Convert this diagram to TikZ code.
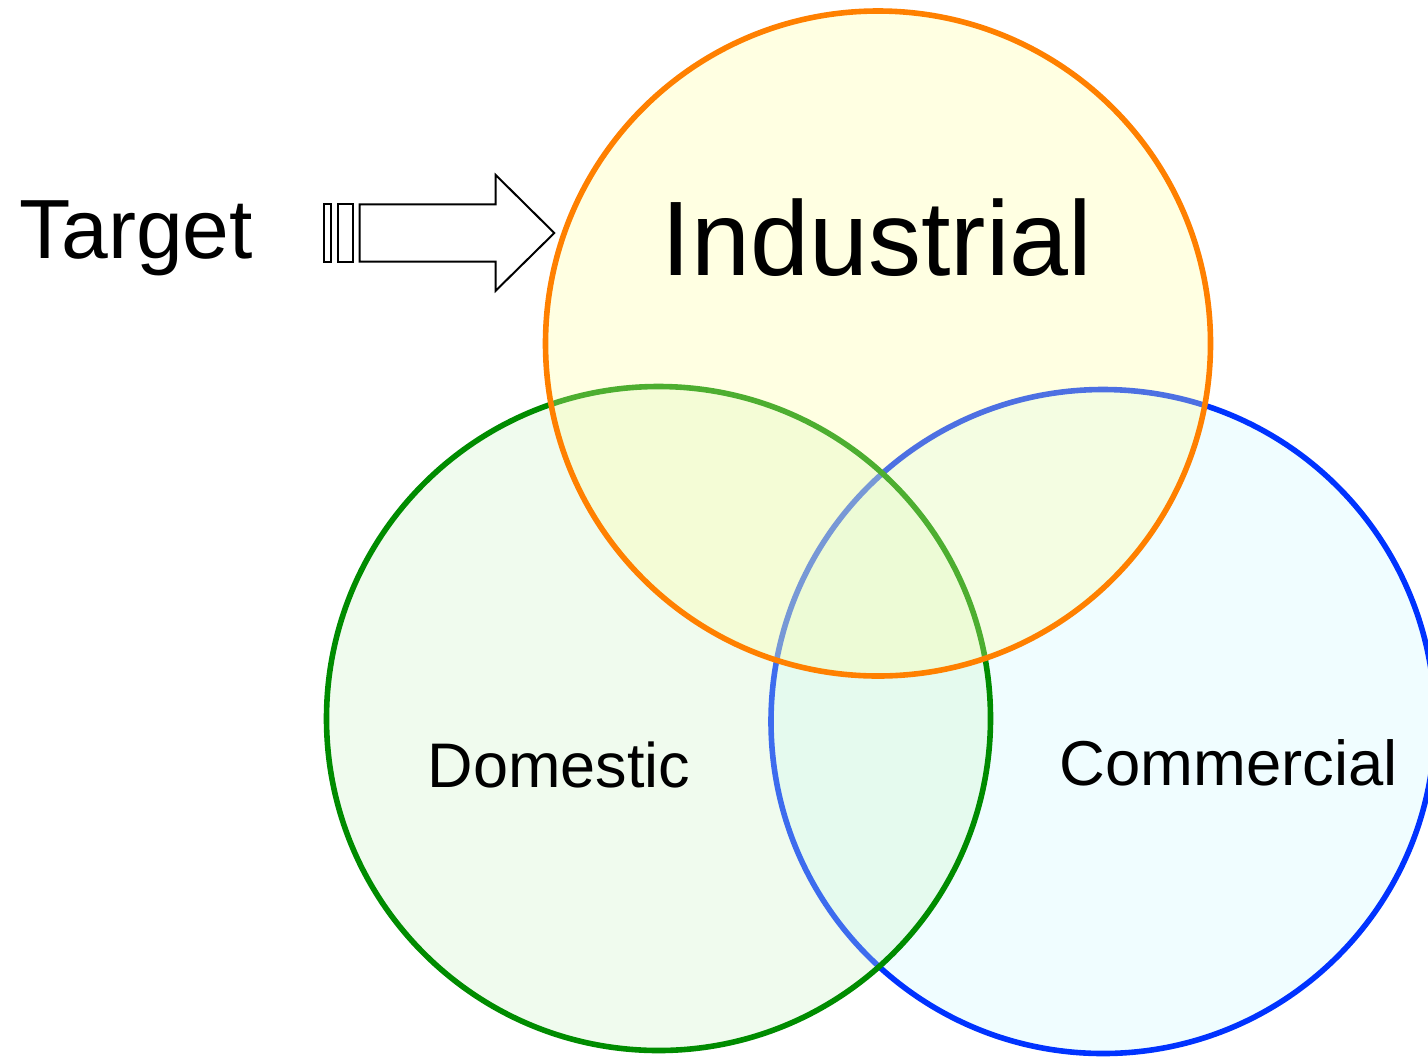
\documentclass[tikz,border=0pt]{standalone}
\usepackage{fontspec}
\setmainfont{Liberation Sans}
\begin{document}
\begin{tikzpicture}[x=0.5pt,y=-0.5pt,
  ring/.style={line width=2.8pt, fill opacity=0.3},
  label/.style={anchor=base, inner sep=0pt, text=black},
  outline/.style={draw=black, line width=1pt, fill=white, line join=miter}]
\useasboundingbox (0,0) rectangle (1428,1056);

% the three overlapping sets, back to front
\draw[ring, draw={rgb,255:red,0;green,51;blue,255}, fill={rgb,255:red,205;green,250;blue,255}]
  (1103,721.5) circle[radius=332];
\draw[ring, draw={rgb,255:red,0;green,140;blue,0}, fill={rgb,255:red,205;green,242;blue,200}]
  (658.5,718.5) circle[radius=332];
\draw[ring, draw={rgb,255:red,255;green,128;blue,0}, fill={rgb,255:red,255;green,255;blue,160}]
  (878,343.5) circle[radius=332.5];

% labels
\node[label, font=\fontsize{53}{60}\selectfont] (ind) at (877,275) {Industrial};
\node[label, font=\fontsize{31.5}{38}\selectfont] (dom) at (559,787) {Domestic};
\node[label, font=\fontsize{31.7}{38}\selectfont] (com) at (1229,785) {Commercial};
\node[label, anchor=base west, font=\fontsize{42}{48}\selectfont] (tgt) at (19,258) {Target};

% striped block arrow
\draw[outline] (324,204.3) rectangle (331.3,261.7);
\draw[outline] (338,204.3) rectangle (352.7,261.7);
\draw[outline] (359.7,204.3) -- (495.7,204.3) -- (495.7,175) -- (554.3,233) --
  (495.7,290.7) -- (495.7,261.7) -- (359.7,261.7) -- cycle;
\end{tikzpicture}
\end{document}
